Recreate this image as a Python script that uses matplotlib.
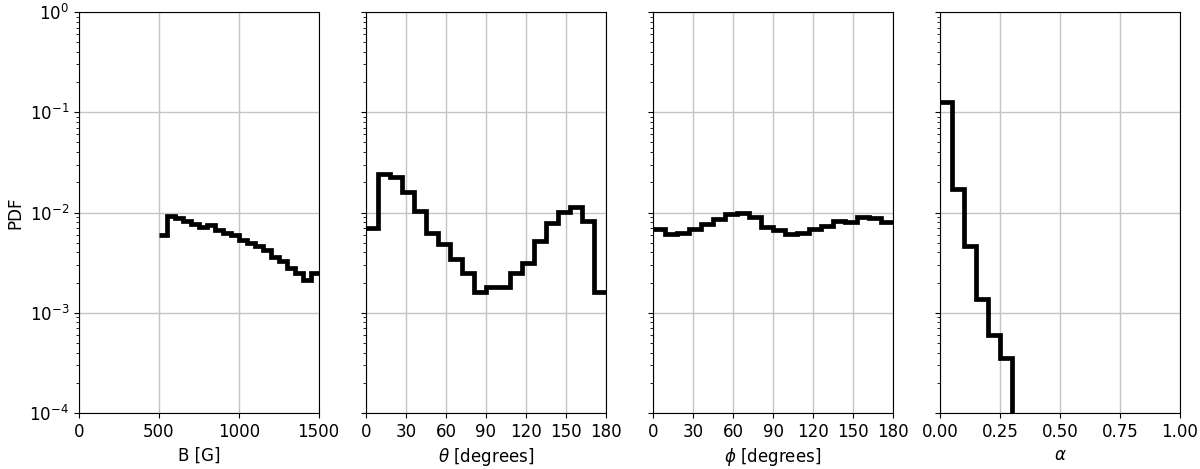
import matplotlib
matplotlib.use("Agg")
import matplotlib.pyplot as plt
import numpy as np

plt.rcParams["font.size"] = 12

# bin edges for each panel
b_edges = np.linspace(500, 1500, 21)
theta_edges = np.linspace(0, 180, 21)
phi_edges = np.linspace(0, 180, 21)
alpha_edges = np.linspace(0, 1, 21)

# PDF values
b_pdf = [0.0060, 0.0092, 0.0088, 0.0083, 0.0076, 0.0072, 0.0075, 0.0067, 0.0063, 0.0060,
         0.0053, 0.0050, 0.0046, 0.0042, 0.0036, 0.0033, 0.0028, 0.0025, 0.0021, 0.0025]
theta_pdf = [0.0070, 0.0240, 0.0225, 0.0159, 0.0104, 0.0062, 0.0049, 0.0034, 0.0025, 0.0016,
             0.0018, 0.0018, 0.0025, 0.0031, 0.0052, 0.0079, 0.0102, 0.0114, 0.0083, 0.0016]
phi_pdf = [0.0068, 0.0061, 0.0062, 0.0069, 0.0076, 0.0087, 0.0097, 0.0098, 0.0091, 0.0072,
           0.0067, 0.0061, 0.0062, 0.0068, 0.0074, 0.0082, 0.0081, 0.0090, 0.0088, 0.0081]
alpha_pdf = [0.127, 0.0170, 0.0046, 0.00137, 0.00060, 0.00035, 0, 0, 0, 0,
             0, 0, 0, 0, 0, 0, 0, 0, 0, 0]

panels = [
    (b_edges, b_pdf, "B [G]", (0, 1500), [0, 500, 1000, 1500], None),
    (theta_edges, theta_pdf, r"$\theta$ [degrees]", (0, 180), np.arange(0, 181, 30), None),
    (phi_edges, phi_pdf, r"$\phi$ [degrees]", (0, 180), np.arange(0, 181, 30), None),
    (alpha_edges, alpha_pdf, r"$\alpha$", (0, 1), [0, 0.25, 0.5, 0.75, 1.0], ["0.00", "0.25", "0.50", "0.75", "1.00"]),
]

fig, axes = plt.subplots(1, 4, figsize=(12, 4.69), dpi=100, sharey=True)
fig.subplots_adjust(left=0.0658, right=0.9833, top=0.9744, bottom=0.1194, wspace=0.198)

for ax, (edges, vals, xlabel, xlim, xticks, xticklabels) in zip(axes, panels):
    ax.set_yscale("log")
    ax.stairs(vals, edges, baseline=None, color="black", lw=3.4)
    ax.set_xlim(*xlim)
    ax.set_xticks(xticks)
    if xticklabels is not None:
        ax.set_xticklabels(xticklabels)
    ax.set_xlabel(xlabel)
    ax.grid(True, which="major", color="#c4c4c4", lw=1.0)
    ax.set_axisbelow(True)

axes[0].set_ylim(1e-4, 1)
axes[0].set_ylabel("PDF")

fig.savefig("out.png", dpi=100)
